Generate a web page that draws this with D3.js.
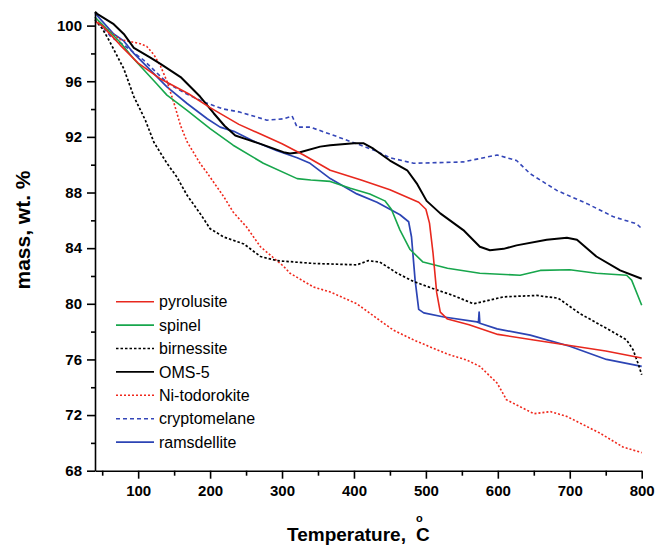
<!DOCTYPE html>
<html>
<head>
<meta charset="utf-8">
<script src="https://d3js.org/d3.v7.min.js"></script>
<style>
  body { margin: 0; background: #fff; }
  .axis path, .axis line { stroke: #000; stroke-width: 1.6; }
  .axis text { font-family: "Liberation Sans", Arial, sans-serif; font-weight: bold; font-size: 15px; fill: #000; }
  .title { font-family: "Liberation Sans", Arial, sans-serif; font-weight: bold; fill: #000; }
  .legend text { font-family: "Liberation Sans", Arial, sans-serif; font-size: 16px; fill: #000; }
</style>
</head>
<body>
<script>
var width = 656, height = 546;

// temperature (C) / mass (wt. %) pairs
var pyrolusite = [[40,100.3],[50,100.0],[75,98.6],[100,97.3],[130,96.2],[170,95.1],[200,94.1],[240,92.9],[270,92.2],[300,91.5],[330,90.7],[367,89.6],[410,88.9],[450,88.2],[490,87.3],[500,86.8],[505,85.8],[510,83.6],[515,80.8],[520,79.4],[530,78.9],[560,78.5],[600,77.8],[650,77.4],[700,77.0],[750,76.6],[800,76.1]];
var spinel = [[40,100.6],[50,100.1],[75,98.8],[94,97.6],[110,96.7],[126,95.8],[140,95.0],[168,93.9],[200,92.6],[232,91.4],[274,90.1],[321,89.0],[340,88.9],[367,88.8],[395,88.3],[422,87.9],[443,87.4],[452,86.8],[464,85.3],[478,83.9],[496,83.0],[530,82.55],[575,82.2],[631,82.05],[659,82.4],[700,82.45],[737,82.2],[779,82.05],[786,81.7],[800,79.9]];
var birnessite = [[40,100.4],[50,99.8],[60,98.9],[70,97.9],[80,96.9],[94,94.9],[110,93.2],[122,91.6],[140,90.1],[154,89.1],[168,87.8],[186,86.5],[200,85.4],[219,84.8],[247,84.3],[270,83.4],[293,83.1],[344,82.9],[404,82.8],[420,83.1],[436,83.0],[460,82.2],[483,81.6],[515,81.0],[538,80.6],[566,80.0],[575,80.1],[608,80.5],[654,80.6],[684,80.4],[714,79.3],[747,78.35],[779,77.4],[788,76.7],[795,75.7],[800,74.9]];
var oms5 = [[40,101.0],[43,100.85],[66,100.1],[80,99.4],[94,98.4],[117,97.7],[131,97.25],[159,96.3],[186,94.9],[205,93.7],[220,92.8],[235,92.1],[252,91.8],[270,91.5],[302,90.9],[311,90.8],[325,90.9],[353,91.3],[367,91.4],[400,91.55],[413,91.55],[427,91.15],[450,90.3],[474,89.6],[488,88.6],[501,87.4],[520,86.5],[552,85.3],[575,84.1],[589,83.85],[608,83.95],[626,84.2],[668,84.6],[696,84.75],[710,84.6],[737,83.4],[770,82.4],[800,81.8]];
var niTodorokite = [[40,100.5],[60,99.6],[75,99.0],[94,98.8],[103,98.7],[112,98.5],[122,97.9],[131,97.1],[140,96.0],[150,94.4],[159,92.8],[168,91.65],[186,90.1],[196,89.4],[219,87.7],[232,86.6],[251,85.5],[270,84.1],[302,82.7],[311,82.2],[344,81.2],[367,80.85],[404,80.0],[436,78.8],[455,78.1],[483,77.4],[515,76.7],[529,76.4],[557,75.95],[575,75.5],[599,74.3],[612,73.1],[650,72.1],[673,72.25],[696,71.9],[742,70.7],[774,69.7],[800,69.3]];
var cryptomelane = [[40,100.6],[62,99.2],[80,98.6],[108,97.5],[122,96.8],[140,95.9],[163,95.2],[191,94.5],[219,94.0],[240,93.8],[260,93.5],[279,93.2],[302,93.3],[314,93.5],[321,92.7],[339,92.7],[367,92.2],[404,91.5],[430,91.0],[450,90.5],[483,90.1],[552,90.2],[599,90.7],[626,90.3],[645,89.35],[682,88.15],[724,87.2],[761,86.25],[793,85.75],[800,85.4]];
var ramsdellite = [[40,100.9],[66,99.4],[80,98.9],[94,98.0],[117,96.8],[140,95.6],[168,94.4],[196,93.3],[214,92.7],[233,92.4],[260,91.7],[293,91.0],[321,90.5],[339,90.1],[367,89.0],[404,87.9],[432,87.3],[450,86.8],[464,86.4],[476,85.9],[480,84.8],[485,81.7],[490,79.6],[497,79.35],[525,79.05],[571,78.7],[573,78.65],[574,79.4],[575,78.6],[599,78.2],[645,77.75],[700,76.95],[751,76.0],[800,75.5]];

var names = ["pyrolusite", "spinel", "birnessite", "OMS-5", "Ni-todorokite", "cryptomelane", "ramsdellite"];
var colors = ["#e8281e", "#17a64c", "#000", "#000", "#f0281c", "#3446b8", "#2c44b4"];
var dashes = [null, null, "2.5,2", null, "2,2", "4,3", null];
var widths = [1.6, 1.6, 1.7, 2, 1.6, 1.6, 1.7];
var series = [pyrolusite, spinel, birnessite, oms5, niTodorokite, cryptomelane, ramsdellite];

var xMajor = [100, 200, 300, 400, 500, 600, 700, 800];
var xMinor = [50, 150, 250, 350, 450, 550, 650, 750];
var yMajor = [68, 72, 76, 80, 84, 88, 92, 96, 100];
var yMinor = [70, 74, 78, 82, 86, 90, 94, 98];

var x = d3.scaleLinear().domain([40, 800]).range([95, 641.7]);
var y = d3.scaleLinear().domain([68, 101]).range([470.7, 11.7]);

var svg = d3.select("body").append("svg")
  .attr("width", width)
  .attr("height", height);

var line = d3.line()
  .x(function(d) { return x(d[0]); })
  .y(function(d) { return y(d[1]); });

// curves, drawn in reverse so the first ones sit on top
svg.append("g")
  .selectAll("path")
  .data(d3.range(series.length).reverse())
  .enter()
  .append("path")
  .attr("d", function(i) { return line(series[i]); })
  .attr("fill", "none")
  .attr("stroke", function(i) { return colors[i]; })
  .attr("stroke-width", function(i) { return widths[i]; })
  .attr("stroke-dasharray", function(i) { return dashes[i]; })
  .attr("stroke-linejoin", "round");

// axes
svg.append("g")
  .attr("class", "axis")
  .attr("transform", "translate(0," + y(68) + ")")
  .call(d3.axisBottom(x).tickValues(xMinor).tickSize(5).tickFormat(""))
  .select(".domain").remove();
svg.append("g")
  .attr("class", "axis")
  .attr("transform", "translate(0," + y(68) + ")")
  .call(d3.axisBottom(x).tickValues(xMajor).tickSize(8).tickSizeOuter(0).tickPadding(7));

svg.append("g")
  .attr("class", "axis")
  .attr("transform", "translate(" + x(40) + ",0)")
  .call(d3.axisLeft(y).tickValues(yMinor).tickSize(4).tickFormat(""))
  .select(".domain").remove();
svg.append("g")
  .attr("class", "axis")
  .attr("transform", "translate(" + x(40) + ",0)")
  .call(d3.axisLeft(y).tickValues(yMajor).tickSize(8).tickSizeOuter(0).tickPadding(5));

// axis titles
svg.append("text")
  .attr("class", "title")
  .attr("transform", "translate(30,230) rotate(-90)")
  .attr("text-anchor", "middle")
  .style("font-size", "21px")
  .text("mass, wt. %");

var xt = svg.append("text")
  .attr("class", "title")
  .attr("x", 287)
  .attr("y", 541)
  .style("font-size", "19px");
xt.append("tspan").text("Temperature, ");
xt.append("tspan").attr("x", 416).text("C");
svg.append("text")
  .attr("class", "title")
  .attr("x", 416)
  .attr("y", 522)
  .style("font-size", "11px")
  .text("o");

// legend
var legend = svg.append("g")
  .attr("class", "legend")
  .selectAll("g")
  .data(names)
  .enter()
  .append("g")
  .attr("transform", function(d, i) { return "translate(116," + (301.7 + i * 23.4) + ")"; });

legend.append("line")
  .attr("x1", 0)
  .attr("x2", 38)
  .attr("stroke", function(d, i) { return colors[i]; })
  .attr("stroke-width", 1.6)
  .attr("stroke-dasharray", function(d, i) { return dashes[i]; });

legend.append("text")
  .attr("x", 43)
  .attr("dy", "0.35em")
  .text(function(d) { return d; });
</script>
</body>
</html>
